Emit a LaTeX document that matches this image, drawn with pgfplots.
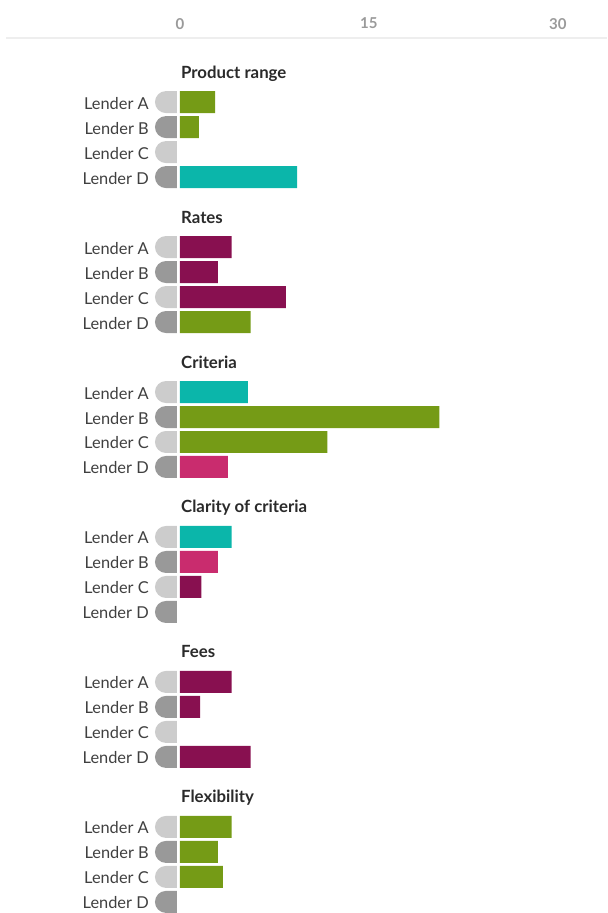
\documentclass[border=0pt]{standalone}
\usepackage{pgfplots}
\pgfplotsset{compat=1.18}
\usepackage{fontspec}
\setmainfont{Lato}
\definecolor{cgreen}{HTML}{759B16}
\definecolor{cteal}{HTML}{0BB6AA}
\definecolor{cpurple}{HTML}{881050}
\definecolor{cpink}{HTML}{C92C6E}
\definecolor{lgrey}{HTML}{CCCCCC}
\definecolor{dgrey}{HTML}{999999}
\definecolor{labtext}{HTML}{404040}
\definecolor{titletext}{HTML}{2A2A2A}
\definecolor{ticktext}{HTML}{9A9A9A}
\definecolor{axline}{HTML}{EEEEEE}
\pgfdeclareplotmark{halfpill}{%
  \pgfpathmoveto{\pgfqpoint{0pt}{-11pt}}%
  \pgfpathlineto{\pgfqpoint{-11pt}{-11pt}}%
  \pgfpatharc{270}{90}{11pt}%
  \pgfpathlineto{\pgfqpoint{0pt}{11pt}}%
  \pgfpathclose
  \pgfusepathqfill}
\begin{document}
\begin{tikzpicture}
\begin{axis}[
  width=607pt, height=913pt, scale only axis,
  xmin=-14.2857, xmax=33.889, ymin=0, ymax=913,
  clip=false,
  axis line style={draw=none},
  major tick length=0pt,
  xtick={0,15,30}, ytick=\empty,
  xticklabel pos=upper,
  xticklabel style={anchor=center, yshift=-23.5pt, font=\fontsize{15}{17}\selectfont\bfseries, text=ticktext},
  /pgf/number format/assume math mode=true,
  bar width=22pt,
]
% axis line
\addplot[draw=axline, line width=1.5pt, mark=none] coordinates {(-13.8,875) (33.889,875)};
% bars
\addplot[xbar, bar shift=0pt, fill=cgreen, draw=none] coordinates {(2.8,811) (1.5,786) (5.6,591) (20.6,496) (11.7,471) (4.1,86) (3.0,61) (3.4,36)};
\addplot[xbar, bar shift=0pt, fill=cteal, draw=none] coordinates {(9.3,736) (5.4,521) (4.1,376)};
\addplot[xbar, bar shift=0pt, fill=cpurple, draw=none] coordinates {(4.1,666) (3.0,641) (8.4,616) (1.7,326) (4.1,231) (1.6,206) (5.6,156)};
\addplot[xbar, bar shift=0pt, fill=cpink, draw=none] coordinates {(3.8,446) (3.0,351)};
% lender markers and labels
\addplot[only marks, mark=halfpill, color=lgrey, point meta=explicit symbolic,
  nodes near coords, nodes near coords align={anchor=base east},
  nodes near coords style={anchor=base east, inner sep=0pt, xshift=-28pt, yshift=-7pt, text=labtext, font=\fontsize{16.4}{20}\selectfont}]
  coordinates {(-0.238,811)[Lender A] (-0.238,761)[Lender C] (-0.238,666)[Lender A] (-0.238,616)[Lender C]
  (-0.238,521)[Lender A] (-0.238,471)[Lender C] (-0.238,376)[Lender A] (-0.238,326)[Lender C]
  (-0.238,231)[Lender A] (-0.238,181)[Lender C] (-0.238,86)[Lender A] (-0.238,36)[Lender C]};
\addplot[only marks, mark=halfpill, color=dgrey, point meta=explicit symbolic,
  nodes near coords, nodes near coords align={anchor=base east},
  nodes near coords style={anchor=base east, inner sep=0pt, xshift=-28pt, yshift=-7pt, text=labtext, font=\fontsize{16.4}{20}\selectfont}]
  coordinates {(-0.238,786)[Lender B] (-0.238,736)[Lender D] (-0.238,641)[Lender B] (-0.238,591)[Lender D]
  (-0.238,496)[Lender B] (-0.238,446)[Lender D] (-0.238,351)[Lender B] (-0.238,301)[Lender D]
  (-0.238,206)[Lender B] (-0.238,156)[Lender D] (-0.238,61)[Lender B] (-0.238,11)[Lender D]};
% group titles
\addplot[only marks, mark=none, point meta=explicit symbolic,
  nodes near coords, nodes near coords align={anchor=base west},
  nodes near coords style={anchor=base west, inner sep=0pt, text=titletext, font=\fontsize{16.8}{19}\selectfont\bfseries}]
  coordinates {(0.08,835)[Product range] (0.08,690)[Rates] (0.08,545)[Criteria]
  (0.08,400)[Clarity of criteria] (0.08,255)[Fees] (0.08,110)[Flexibility]};
\end{axis}
\end{tikzpicture}
\end{document}
